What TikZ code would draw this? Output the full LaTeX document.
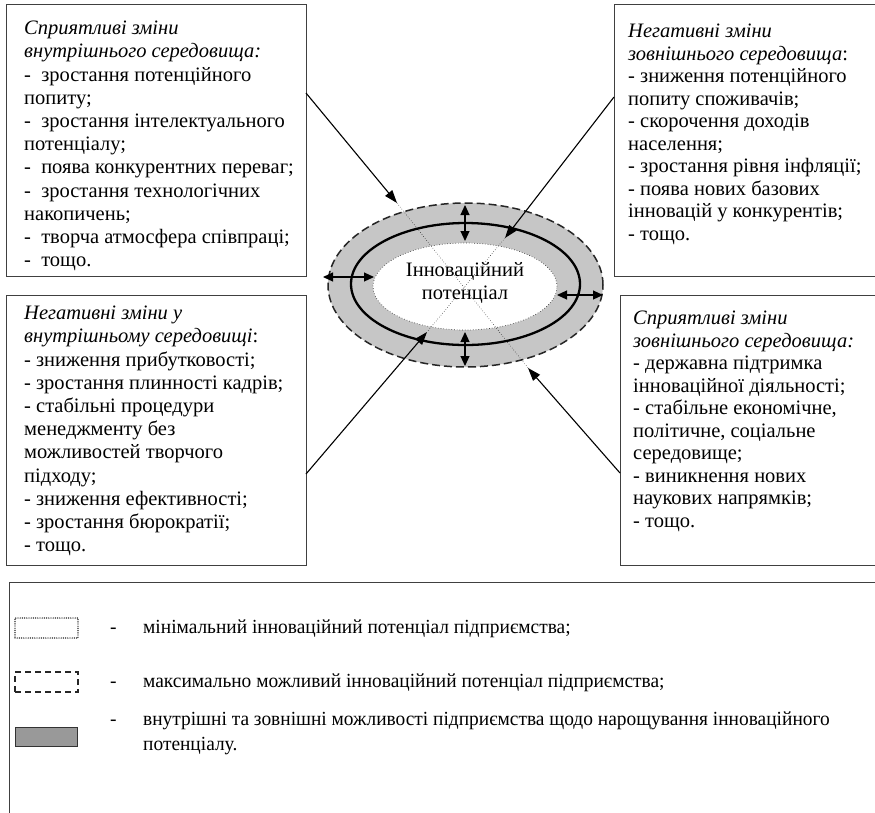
\documentclass[tikz,border=0pt]{standalone}
\usepackage{fontspec}
\setmainfont{Liberation Serif}
\usetikzlibrary{arrows.meta,shapes.geometric,calc}
\newcommand\panelfont{\fontsize{20.5}{23.2}\selectfont}
\newcommand\tightpanelfont{\fontsize{20.5}{22.5}\selectfont}
\newcommand\keyfont{\addfontfeatures{FakeStretch=0.97}\fontsize{20}{25}\selectfont}
\definecolor{ringgray}{HTML}{C6C6C6}
\definecolor{keygray}{HTML}{999999}
\tikzset{
  panel/.style={draw=black!75, line width=0.8pt, inner sep=0pt},
  paneltext/.style={anchor=north west, align=left, inner sep=0pt, font=\panelfont},
  keytext/.style={anchor=base west, inner sep=0pt, font=\keyfont},
  influence/.style={line width=1.1pt, -{Triangle[length=13pt,width=9pt]}},
  through/.style={line width=0.5pt, dotted},
  swing/.style={line width=1.1pt, {Triangle[length=10pt,width=9pt]}-{Triangle[length=10pt,width=9pt]}},
  ring/.style={ellipse, inner sep=0pt}
}
\begin{document}
\begin{tikzpicture}[x=1pt,y=-1pt]
\useasboundingbox (0,0) rectangle (875,812);
\clip (0,0) rectangle (875,812);

% four panels of influencing factors
\node[panel, minimum width=300pt, minimum height=272pt] (tl) at (156,140) {};
\node[panel, minimum width=286pt, minimum height=272pt] (tr) at (757,140) {};
\node[panel, minimum width=300pt, minimum height=270pt] (bl) at (156,430) {};
\node[panel, minimum width=280pt, minimum height=270pt] (br) at (760,430) {};

\node[paneltext] (tltext) at (24,21) {\textit{Сприятливі зміни}\\
\textit{внутрішнього середовища:}\\
-\ \ зростання потенційного\\
попиту;\\
-\ \ зростання інтелектуального\\
потенціалу;\\
-\ \ поява конкурентних переваг;\\
-\ \ зростання технологічних\\
накопичень;\\
-\ \ творча атмосфера співпраці;\\
-\ \ тощо.};

\node[paneltext, font=\tightpanelfont] (trtext) at (628,24) {\textit{Негативні зміни}\\
\textit{зовнішнього середовища}:\\
- зниження потенційного\\
попиту споживачів;\\
- скорочення доходів\\
населення;\\
- зростання рівня інфляції;\\
- поява нових базових\\
інновацій у конкурентів;\\
- тощо.};

\node[paneltext] (bltext) at (24,306) {\textit{Негативні зміни у}\\
\textit{внутрішньому середовищі}:\\
- зниження прибутковості;\\
- зростання плинності кадрів;\\
- стабільні процедури\\
менеджменту без\\
можливостей творчого\\
підходу;\\
- зниження ефективності;\\
- зростання бюрократії;\\
- тощо.};

\node[paneltext, font=\tightpanelfont] (brtext) at (633,311) {\textit{Сприятливі зміни}\\
\textit{зовнішнього середовища:}\\
- державна підтримка\\
інноваційної діяльності;\\
- стабільне економічне,\\
політичне, соціальне\\
середовище;\\
- виникнення нових\\
наукових напрямків;\\
- тощо.};

% the potential: max (dashed), actual (thick), min (dotted)
\node[ring, draw=black!85, dash pattern=on 8pt off 4pt, line width=1.5pt, fill=ringgray,
      minimum width=275pt, minimum height=164pt] (outer) at (465.5,285) {};
\node[ring, draw=black, line width=2.3pt,
      minimum width=229pt, minimum height=122pt] (mid) at (465.5,284) {};
\node[ring, draw=black!75, dotted, line width=0.7pt, fill=white,
      minimum width=184pt, minimum height=87pt] (inner) at (465,286.5) {};
\node[align=center, inner sep=0pt, font=\fontsize{20.5}{23}\selectfont] (core) at (465,283)
  {Інноваційний\\потенціал};

% where the influences enter and leave the rings
\coordinate (tlOut) at (306,93);
\coordinate (tlTip) at (397,203);
\coordinate (brOut) at (620,473);
\coordinate (brTip) at (528,368);
\coordinate (trOut) at (614,97);
\coordinate (trTip) at (505,238);
\coordinate (blOut) at (306,474);
\coordinate (blTip) at (427,332);

\draw[through] (tlTip) -- (brTip);
\draw[through] (trTip) -- (blTip);

\draw[influence] (tlOut) -- (tlTip);
\draw[influence] (brOut) -- (brTip);
\draw[influence] (trOut) -- (trTip);
\draw[influence] (blOut) -- (blTip);

% room for growth and shrinking
\coordinate (upA) at (465,205);
\coordinate (upB) at (465,241);
\coordinate (dnA) at (465,332);
\coordinate (dnB) at (465,366);
\coordinate (lfA) at (323,277);
\coordinate (lfB) at (374,277);
\coordinate (rtA) at (557,295);
\coordinate (rtB) at (603,295);
\draw[swing] (upA) -- (upB);
\draw[swing] (dnA) -- (dnB);
\draw[swing] (lfA) -- (lfB);
\draw[swing] (rtA) -- (rtB);

% key
\node[panel, minimum width=891pt, minimum height=250pt] (key) at (454.5,707) {};
\node[draw=black, dash pattern=on 0pt off 2.2pt, line cap=round, line width=1.4pt, inner sep=0pt,
      minimum width=63pt, minimum height=20pt] (kmin) at (46.5,628) {};
\node[draw=black!85, dash pattern=on 6pt off 4pt, line width=1.3pt, inner sep=0pt,
      minimum width=63pt, minimum height=20pt] (kmax) at (46.5,682) {};
\node[draw=black!80, fill=keygray, line width=0.7pt, inner sep=0pt,
      minimum width=62pt, minimum height=19pt] (kgap) at (46,736.5) {};

\node[keytext] (d1) at (110,633) {-};
\node[keytext] (d2) at (110,687) {-};
\node[keytext] (d3) at (110,725) {-};
\node[keytext] (t1) at (143,633) {мінімальний інноваційний потенціал підприємства;};
\node[keytext] (t2) at (143,687) {максимально можливий інноваційний потенціал підприємства;};
\node[keytext] (t3) at (143,725) {внутрішні та зовнішні можливості підприємства щодо нарощування інноваційного};
\node[keytext] (t3b) at (143,750) {потенціалу.};
\end{tikzpicture}
\end{document}
